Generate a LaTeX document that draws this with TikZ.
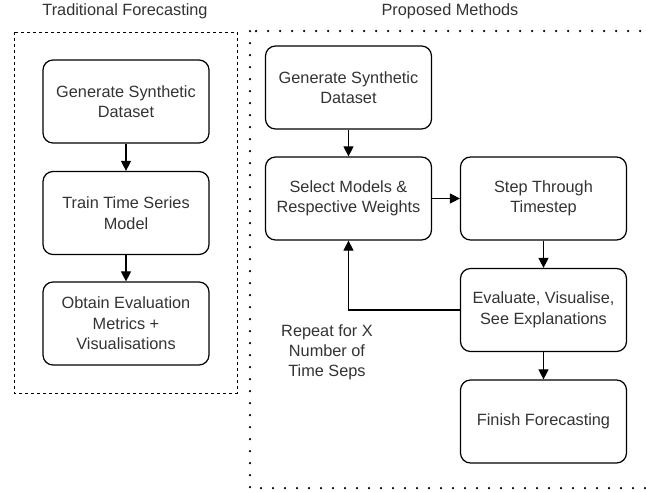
\documentclass[tikz,border=0pt]{standalone}
\usepackage{fontspec}
\setmainfont{Liberation Sans}
\usetikzlibrary{arrows.meta}
\begin{document}
\begin{tikzpicture}[x=1pt,y=-1pt,
  stepbox/.style={draw=black, line width=1.2pt, rounded corners=10pt, minimum width=166pt, minimum height=83pt, align=center, font=\fontsize{16.3}{20.5}\selectfont, text=black!80},
  flow/.style={draw=black, line width=1.1pt, -{Triangle[length=10pt,width=10pt]}},
  title/.style={font=\fontsize{16.3}{20}\selectfont, text=black!80}]
\useasboundingbox (0,0) rectangle (646,493);
% group frames
\draw[line width=1pt, dash pattern=on 3pt off 3pt] (14,32) rectangle (237,393);
\begin{scope}
\clip (0,0) rectangle (646,493);
\draw[line width=2.5pt, line cap=round, dash pattern=on 0pt off 12pt] (250,31) rectangle (660,488);
\end{scope}
\node[title] (t1) at (125,11) {Traditional Forecasting};
\node[title] (t2) at (450,11) {Proposed Methods};
% traditional pipeline
\node[stepbox] (a1) at (126,101.5) {Generate Synthetic\\Dataset};
\node[stepbox] (a2) at (126,213) {Train Time Series\\Model};
\node[stepbox] (a3) at (126,323.5) {Obtain Evaluation\\Metrics +\\Visualisations};
\draw[flow] (a1) -- (a2);
\draw[flow] (a2) -- (a3);
% proposed pipeline
\node[stepbox] (b1) at (348.5,87.5) {Generate Synthetic\\Dataset};
\node[stepbox] (b2) at (348.5,198.5) {Select Models \&\\Respective Weights};
\node[stepbox] (b3) at (543.5,198.5) {Step Through\\Timestep};
\node[stepbox] (b4) at (543.5,310) {Evaluate, Visualise,\\See Explanations};
\node[stepbox] (b5) at (543.5,421.5) {Finish Forecasting};
\draw[flow] (b1) -- (b2);
\draw[flow] (b2) -- (b3);
\draw[flow] (b3) -- (b4);
\draw[flow] (b4) -- (b5);
\draw[flow] (b4.west) -| (b2.south);
\node[align=center, font=\fontsize{16.3}{20}\selectfont, text=black!80] (rep) at (327,352) {Repeat for X\\Number of\\Time Seps};
\end{tikzpicture}
\end{document}
